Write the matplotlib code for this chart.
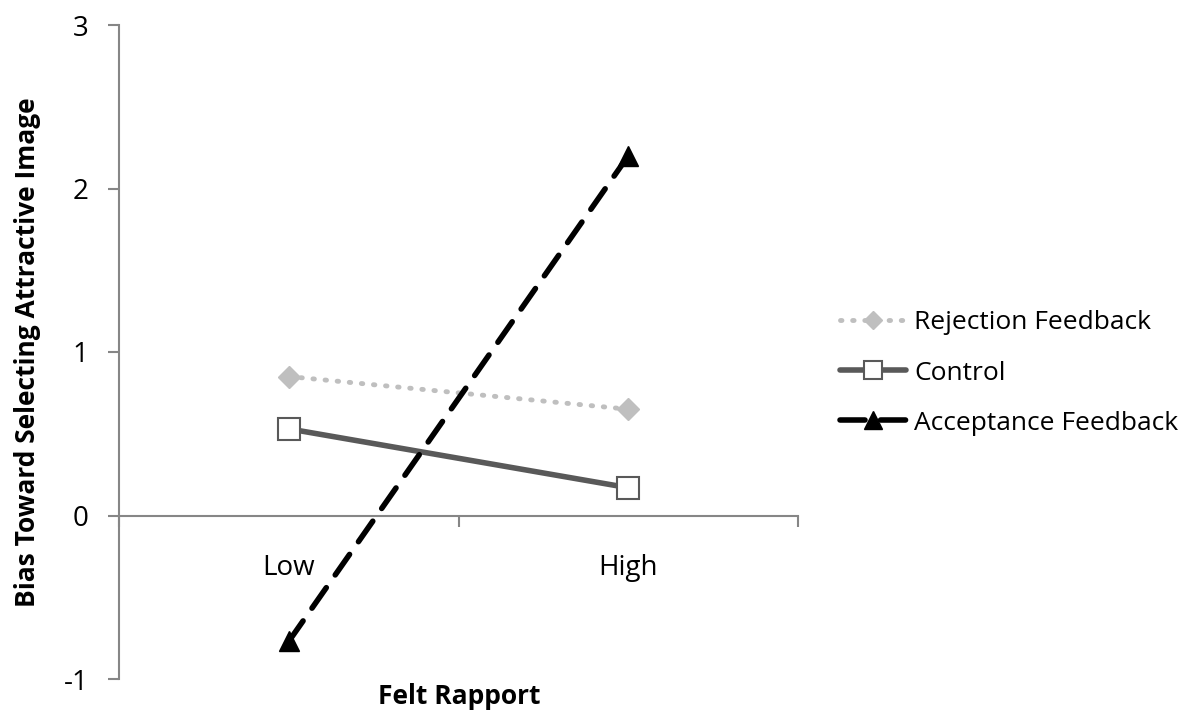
import matplotlib.pyplot as plt
from matplotlib.ticker import FixedLocator

plt.rcParams['font.family'] = ['Open Sans', 'DejaVu Sans']

categories = ['Low', 'High']
rejection = [0.85, 0.65]
control = [0.53, 0.17]
acceptance = [-0.77, 2.2]

fig = plt.figure(figsize=(12.02, 7.19), dpi=100)
ax = fig.add_axes([119/1202, 1 - 679/719, (798-119)/1202, (679-25)/719])

x = [0, 1]
ax.plot(x, rejection, color='#BFBFBF', lw=3.5, ls=(0, (0.3, 2.2)),
        dash_capstyle='round', marker='D', ms=11, mfc='#BFBFBF', mec='#BFBFBF',
        label='Rejection Feedback')
ax.plot(x, control, color='#595959', lw=4, ls='-', solid_capstyle='round',
        marker='s', ms=16, mfc='white', mec='#595959', mew=1.5, label='Control')
ax.plot(x, acceptance, color='black', lw=4, ls=(0, (4.5, 2.8)),
        dash_capstyle='round', marker='^', ms=15, mfc='black', mec='black',
        label='Acceptance Feedback')

ax.set_xlim(-0.5, 1.5)
ax.set_ylim(-1, 3)
ax.set_yticks([-1, 0, 1, 2, 3])
ax.set_yticklabels(['-1', '0', '1', '2', '3'])

ax.spines['top'].set_visible(False)
ax.spines['right'].set_visible(False)
ax.spines['bottom'].set_position(('data', 0))
for s in ['left', 'bottom']:
    ax.spines[s].set_color('#868686')
    ax.spines[s].set_linewidth(1.5)

ax.xaxis.set_major_locator(FixedLocator([0, 1]))
ax.set_xticklabels(categories)
ax.xaxis.set_minor_locator(FixedLocator([-0.5, 0.5, 1.5]))
ax.tick_params(axis='x', which='major', length=0, pad=28, labelsize=20)
ax.tick_params(axis='x', which='minor', length=8, width=1.5, color='#868686', direction='out')
ax.tick_params(axis='y', length=8, width=1.5, color='#868686', pad=14, labelsize=20)

fig.text(459/1202, 1 - 697/719, 'Felt Rapport', ha='center', va='center',
         fontsize=19, fontweight='bold')
fig.text(28/1202, 1 - 352/719, 'Bias Toward Selecting Attractive Image', ha='center',
         va='center', rotation=90, fontsize=19, fontweight='bold')

leg = ax.legend(loc='center left', bbox_to_anchor=((840-119)/679, 0.5 + (352-373)/654),
                frameon=False, fontsize=19, handlelength=2.5, handletextpad=0.3,
                labelspacing=0.95, borderaxespad=0, borderpad=0, markerscale=0.85)

fig.savefig('out.png', dpi=100)
